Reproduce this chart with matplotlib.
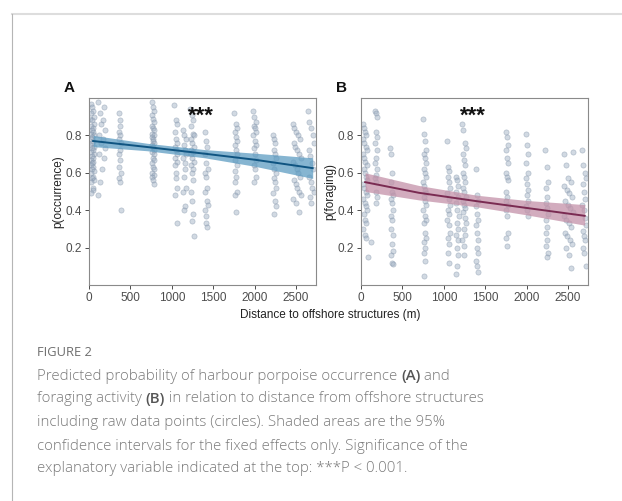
import matplotlib
matplotlib.use("Agg")
import matplotlib.pyplot as plt
from matplotlib.lines import Line2D

plt.rcParams["font.family"] = ["Liberation Sans", "DejaVu Sans"]

# ---- panel A: p(occurrence), raw points by distance column ----
occ_x = [
    [22, 35, 48, 30, 55, 18, 40, 62, 25, 50, 33, 45, 20, 58, 38, 28, 52, 42, 15, 60, 36, 47, 24, 56, 31, 44, 19, 53, 39, 27, 49, 34, 61, 22, 46, 37, 57, 29, 43, 51, 26],
    [110, 185, 130, 175, 150, 190, 120, 165, 140, 195, 125, 180, 160, 135, 105],
    [360, 372, 380, 366, 375, 358, 383, 370, 362, 377, 368, 381, 365, 374, 385],
    [755, 770, 785, 762, 778, 790, 758, 774, 782, 765, 788, 760, 776, 769, 784, 757, 772, 786, 763, 780, 767, 789, 759, 775, 783, 766, 779, 761, 771, 787],
    [1030, 1045, 1060, 1038, 1052, 1066, 1035, 1049, 1058, 1041, 1063, 1033, 1055, 1047, 1068, 1040, 1057],
    [1135, 1150, 1165, 1142, 1158, 1170, 1138, 1154, 1162, 1146, 1168, 1140, 1156, 1148],
    [1225, 1240, 1258, 1232, 1250, 1265, 1228, 1245, 1262, 1236, 1254, 1230, 1248, 1268, 1234, 1252, 1243, 1260, 1227, 1246, 1256, 1238, 1264],
    [1395, 1410, 1425, 1402, 1418, 1432, 1398, 1414, 1428, 1405, 1421, 1435, 1400, 1416, 1408, 1424],
    [1755, 1770, 1785, 1762, 1778, 1790, 1758, 1774, 1782, 1765, 1788, 1760, 1776, 1768, 1784, 1757, 1772],
    [1980, 1995, 2010, 1988, 2002, 2018, 1984, 1998, 2014, 1991, 2006, 2020, 1986, 2000, 2012, 1993],
    [2220, 2235, 2250, 2228, 2242, 2258, 2224, 2238, 2254, 2231, 2246, 2260, 2226, 2240, 2252, 2233],
    [2460, 2480, 2500, 2520, 2545, 2470, 2490, 2510, 2535, 2555, 2465, 2485, 2505, 2528, 2550, 2475, 2495, 2515, 2540, 2560, 2468, 2498, 2530],
    [2645, 2660, 2680, 2700, 2715, 2650, 2670, 2690, 2708, 2655, 2675, 2695, 2712, 2665, 2685],
]
occ_y = [
    [0.97, 0.95, 0.93, 0.92, 0.90, 0.89, 0.88, 0.86, 0.85, 0.84, 0.83, 0.82, 0.81, 0.80, 0.79, 0.78, 0.77, 0.76, 0.75, 0.74, 0.73, 0.72, 0.71, 0.70, 0.69, 0.68, 0.67, 0.66, 0.65, 0.64, 0.63, 0.62, 0.61, 0.60, 0.58, 0.57, 0.56, 0.55, 0.52, 0.51, 0.49],
    [0.98, 0.95, 0.92, 0.88, 0.86, 0.83, 0.80, 0.78, 0.76, 0.73, 0.70, 0.68, 0.62, 0.55, 0.48],
    [0.92, 0.88, 0.85, 0.82, 0.80, 0.78, 0.76, 0.72, 0.70, 0.67, 0.63, 0.60, 0.57, 0.55, 0.40],
    [0.98, 0.95, 0.93, 0.91, 0.89, 0.87, 0.85, 0.84, 0.83, 0.81, 0.80, 0.79, 0.78, 0.77, 0.76, 0.75, 0.74, 0.72, 0.71, 0.70, 0.68, 0.67, 0.65, 0.63, 0.62, 0.60, 0.59, 0.58, 0.56, 0.54],
    [0.96, 0.88, 0.86, 0.82, 0.78, 0.76, 0.74, 0.72, 0.70, 0.68, 0.66, 0.64, 0.60, 0.57, 0.52, 0.48, 0.33],
    [0.83, 0.80, 0.78, 0.75, 0.72, 0.70, 0.68, 0.65, 0.62, 0.58, 0.52, 0.50, 0.42, 0.40],
    [0.94, 0.91, 0.88, 0.85, 0.81, 0.80, 0.78, 0.76, 0.74, 0.72, 0.71, 0.70, 0.68, 0.66, 0.64, 0.62, 0.60, 0.56, 0.50, 0.45, 0.38, 0.34, 0.26],
    [0.82, 0.77, 0.74, 0.70, 0.65, 0.62, 0.60, 0.58, 0.52, 0.50, 0.45, 0.43, 0.40, 0.37, 0.33, 0.31],
    [0.92, 0.86, 0.84, 0.82, 0.79, 0.77, 0.75, 0.72, 0.70, 0.67, 0.64, 0.61, 0.58, 0.55, 0.50, 0.48, 0.39],
    [0.93, 0.90, 0.87, 0.85, 0.84, 0.82, 0.80, 0.77, 0.75, 0.73, 0.70, 0.67, 0.64, 0.62, 0.58, 0.55],
    [0.80, 0.78, 0.76, 0.72, 0.70, 0.68, 0.65, 0.62, 0.60, 0.57, 0.55, 0.52, 0.49, 0.45, 0.42, 0.38],
    [0.86, 0.84, 0.82, 0.80, 0.78, 0.76, 0.74, 0.72, 0.70, 0.68, 0.66, 0.64, 0.62, 0.60, 0.58, 0.56, 0.54, 0.52, 0.50, 0.48, 0.46, 0.44, 0.39],
    [0.93, 0.87, 0.84, 0.80, 0.76, 0.72, 0.69, 0.65, 0.62, 0.58, 0.55, 0.52, 0.50, 0.47, 0.44],
]

# ---- panel B: p(foraging) ----
for_x = [
    [20, 35, 50, 65, 28, 42, 58, 72, 24, 38, 54, 68, 31, 46, 62, 76, 22, 40, 56, 70, 26, 44, 60, 74, 33, 48, 64, 30, 52, 66, 80],
    [170, 185, 195, 178, 190, 172, 188, 182, 175, 193, 180, 168, 186, 177, 191, 183, 125],
    [355, 368, 380, 362, 375, 390, 358, 372, 385, 365, 378, 360, 382, 370, 388, 366, 376, 392],
    [750, 762, 775, 790, 756, 770, 784, 758, 768, 780, 752, 765, 778, 788, 760, 772, 786, 754, 767, 782, 759, 774, 789, 763, 777, 757, 771, 760],
    [1040, 1055, 1068, 1048, 1062, 1075, 1044, 1058, 1070, 1050, 1065, 1042, 1060, 1072, 1052, 1066, 1046, 1064],
    [1145, 1160, 1175, 1152, 1168, 1148, 1164, 1178, 1155, 1170, 1150, 1166, 1158, 1172, 1162, 1147],
    [1222, 1236, 1252, 1266, 1230, 1245, 1260, 1226, 1240, 1256, 1232, 1248, 1262, 1228, 1243, 1258, 1234, 1250, 1264, 1238, 1254, 1224, 1246, 1242],
    [1385, 1400, 1412, 1392, 1406, 1418, 1388, 1402, 1415, 1395, 1408, 1390, 1404, 1410],
    [1745, 1758, 1772, 1750, 1765, 1778, 1748, 1762, 1775, 1752, 1768, 1755, 1770, 1747, 1760, 1774, 1756, 1766],
    [1990, 2005, 2018, 1995, 2010, 1992, 2008, 2015, 1998, 2012, 1994, 2003, 2016],
    [2225, 2240, 2255, 2232, 2248, 2228, 2244, 2258, 2236, 2250, 2230, 2246, 2238, 2252, 2242],
    [2445, 2560, 2470, 2500, 2530, 2455, 2485, 2515, 2545, 2465, 2495, 2525, 2555, 2450, 2480, 2510, 2540, 2460, 2490, 2520, 2550, 2475, 2505, 2535],
    [2668, 2682, 2698, 2712, 2675, 2690, 2705, 2672, 2686, 2702, 2715, 2678, 2694, 2708, 2680, 2696, 2718],
]
for_y = [
    [0.86, 0.84, 0.82, 0.80, 0.78, 0.76, 0.74, 0.72, 0.70, 0.68, 0.66, 0.64, 0.62, 0.60, 0.58, 0.56, 0.54, 0.52, 0.50, 0.48, 0.46, 0.44, 0.42, 0.40, 0.38, 0.35, 0.33, 0.30, 0.27, 0.25, 0.15],
    [0.93, 0.92, 0.90, 0.82, 0.79, 0.76, 0.72, 0.68, 0.65, 0.62, 0.59, 0.57, 0.55, 0.50, 0.47, 0.44, 0.23],
    [0.73, 0.70, 0.60, 0.55, 0.50, 0.48, 0.46, 0.44, 0.40, 0.37, 0.35, 0.30, 0.27, 0.22, 0.18, 0.16, 0.12, 0.11],
    [0.89, 0.81, 0.77, 0.72, 0.70, 0.68, 0.65, 0.62, 0.60, 0.58, 0.55, 0.53, 0.51, 0.49, 0.47, 0.45, 0.43, 0.40, 0.37, 0.35, 0.33, 0.28, 0.25, 0.23, 0.20, 0.17, 0.13, 0.05],
    [0.77, 0.63, 0.61, 0.58, 0.55, 0.52, 0.49, 0.46, 0.43, 0.40, 0.38, 0.35, 0.32, 0.28, 0.25, 0.22, 0.17, 0.12],
    [0.58, 0.56, 0.53, 0.50, 0.47, 0.44, 0.40, 0.37, 0.33, 0.30, 0.27, 0.24, 0.20, 0.16, 0.10, 0.06],
    [0.86, 0.83, 0.76, 0.73, 0.70, 0.67, 0.64, 0.60, 0.58, 0.55, 0.52, 0.50, 0.47, 0.45, 0.43, 0.41, 0.39, 0.36, 0.33, 0.30, 0.27, 0.24, 0.21, 0.16],
    [0.62, 0.48, 0.45, 0.42, 0.38, 0.35, 0.32, 0.28, 0.24, 0.20, 0.17, 0.13, 0.10, 0.07],
    [0.82, 0.79, 0.75, 0.72, 0.68, 0.65, 0.60, 0.58, 0.56, 0.50, 0.47, 0.45, 0.43, 0.40, 0.37, 0.28, 0.25, 0.21],
    [0.81, 0.75, 0.70, 0.65, 0.60, 0.57, 0.54, 0.51, 0.48, 0.45, 0.42, 0.40, 0.37],
    [0.72, 0.63, 0.55, 0.52, 0.47, 0.44, 0.41, 0.38, 0.35, 0.31, 0.28, 0.24, 0.21, 0.17, 0.15],
    [0.70, 0.71, 0.64, 0.57, 0.55, 0.53, 0.51, 0.49, 0.47, 0.45, 0.43, 0.41, 0.39, 0.37, 0.35, 0.33, 0.31, 0.28, 0.26, 0.24, 0.22, 0.20, 0.16, 0.09],
    [0.72, 0.64, 0.60, 0.57, 0.54, 0.50, 0.46, 0.43, 0.40, 0.36, 0.32, 0.29, 0.26, 0.24, 0.20, 0.17, 0.10],
]

# ---- fitted curves and 95% CI ----
fit_x = [50, 700, 1400, 2000, 2700]
occ_fit = [0.770, 0.738, 0.702, 0.670, 0.625]
occ_lo = [0.740, 0.718, 0.680, 0.635, 0.570]
occ_hi = [0.800, 0.758, 0.724, 0.705, 0.680]
for_fit = [0.550, 0.493, 0.448, 0.412, 0.370]
for_lo = [0.500, 0.455, 0.418, 0.375, 0.320]
for_hi = [0.600, 0.532, 0.480, 0.452, 0.430]

xticks = [0, 500, 1000, 1500, 2000, 2500]
yticks = [0.2, 0.4, 0.6, 0.8]

fig = plt.figure(figsize=(6.22, 5.01), dpi=100)
W, H = 622, 501


def panel(left, xs, ys, fit, lo, hi, line_col, fill_col, ylabel, letter):
    ax = fig.add_axes([left / W, 1 - 285 / H, 227 / W, 187 / H])
    for cx, cy in zip(xs, ys):
        ax.scatter(cx, cy, s=14, color="#9aabbf", alpha=0.45, edgecolors="#7688a0",
                   linewidths=0.5, zorder=2)
    ax.fill_between(fit_x, lo, hi, color=fill_col, alpha=0.75, lw=0, zorder=3)
    ax.plot(fit_x, fit, color=line_col, lw=1.4, zorder=4)
    ax.set_xlim(0, 2740)
    ax.set_ylim(0.0, 1.0)
    ax.set_xticks(xticks)
    ax.set_yticks(yticks)
    ax.set_yticklabels(["0.2", "0.4", "0.6", "0.8"])
    ax.tick_params(colors="#4d4d4d", labelsize=8.5, length=3, width=0.7, pad=2)
    for sp in ax.spines.values():
        sp.set_color("#8a8a8a")
        sp.set_linewidth(0.8)
    ax.set_ylabel(ylabel, fontsize=8.5, color="#222222", labelpad=1)
    ax.text(0.495, 0.905, "***", transform=ax.transAxes, ha="center", va="center",
            fontsize=16, fontweight="bold", color="#111111")
    ax.text(-0.11, 1.015, letter, transform=ax.transAxes, ha="left", va="bottom",
            fontsize=11, fontweight="bold", color="#111111")
    return ax


panel(89, occ_x, occ_y, occ_fit, occ_lo, occ_hi, "#0f5481", "#5d9cc2",
      "p(occurrence)", "A")
panel(361, for_x, for_y, for_fit, for_lo, for_hi, "#7a2b52", "#c391a8",
      "p(foraging)", "B")

fig.text(330 / W, 1 - 315 / H, "Distance to offshore structures (m)", ha="center",
         va="center", fontsize=8.5, color="#222222")

# page frame
fig.add_artist(Line2D([12 / W, 1], [1 - 14 / H, 1 - 14 / H], color="#dddddd", lw=1.5))
fig.add_artist(Line2D([12 / W, 12 / W], [0, 1 - 14 / H], color="#b5b5b5", lw=0.8))

# caption
fig.text(37 / W, 1 - 352 / H, "FIGURE 2", ha="left", va="center", fontsize=9.3,
         family="Open Sans", color="#6d6d6d")

cap_lines = [
    [("Predicted probability of harbour porpoise occurrence ", False), ("(A)", True), (" and", False)],
    [("foraging activity ", False), ("(B)", True), (" in relation to distance from offshore structures", False)],
    [("including raw data points (circles). Shaded areas are the 95%", False)],
    [("confidence intervals for the fixed effects only. Significance of the", False)],
    [("explanatory variable indicated at the top: ***P < 0.001.", False)],
]
cap_y = [376, 399, 422, 446, 469]
fig.canvas.draw()
r = fig.canvas.get_renderer()
for parts, yy in zip(cap_lines, cap_y):
    x = 37
    for s, bold in parts:
        t = fig.text(x / W, 1 - yy / H, s, ha="left", va="center", fontsize=10.8,
                     family="Open Sans", fontweight="semibold" if bold else "light",
                     color="#555555" if bold else "#7a7a7a")
        bb = t.get_window_extent(renderer=r)
        x += bb.width

fig.savefig("out.png", dpi=100)
